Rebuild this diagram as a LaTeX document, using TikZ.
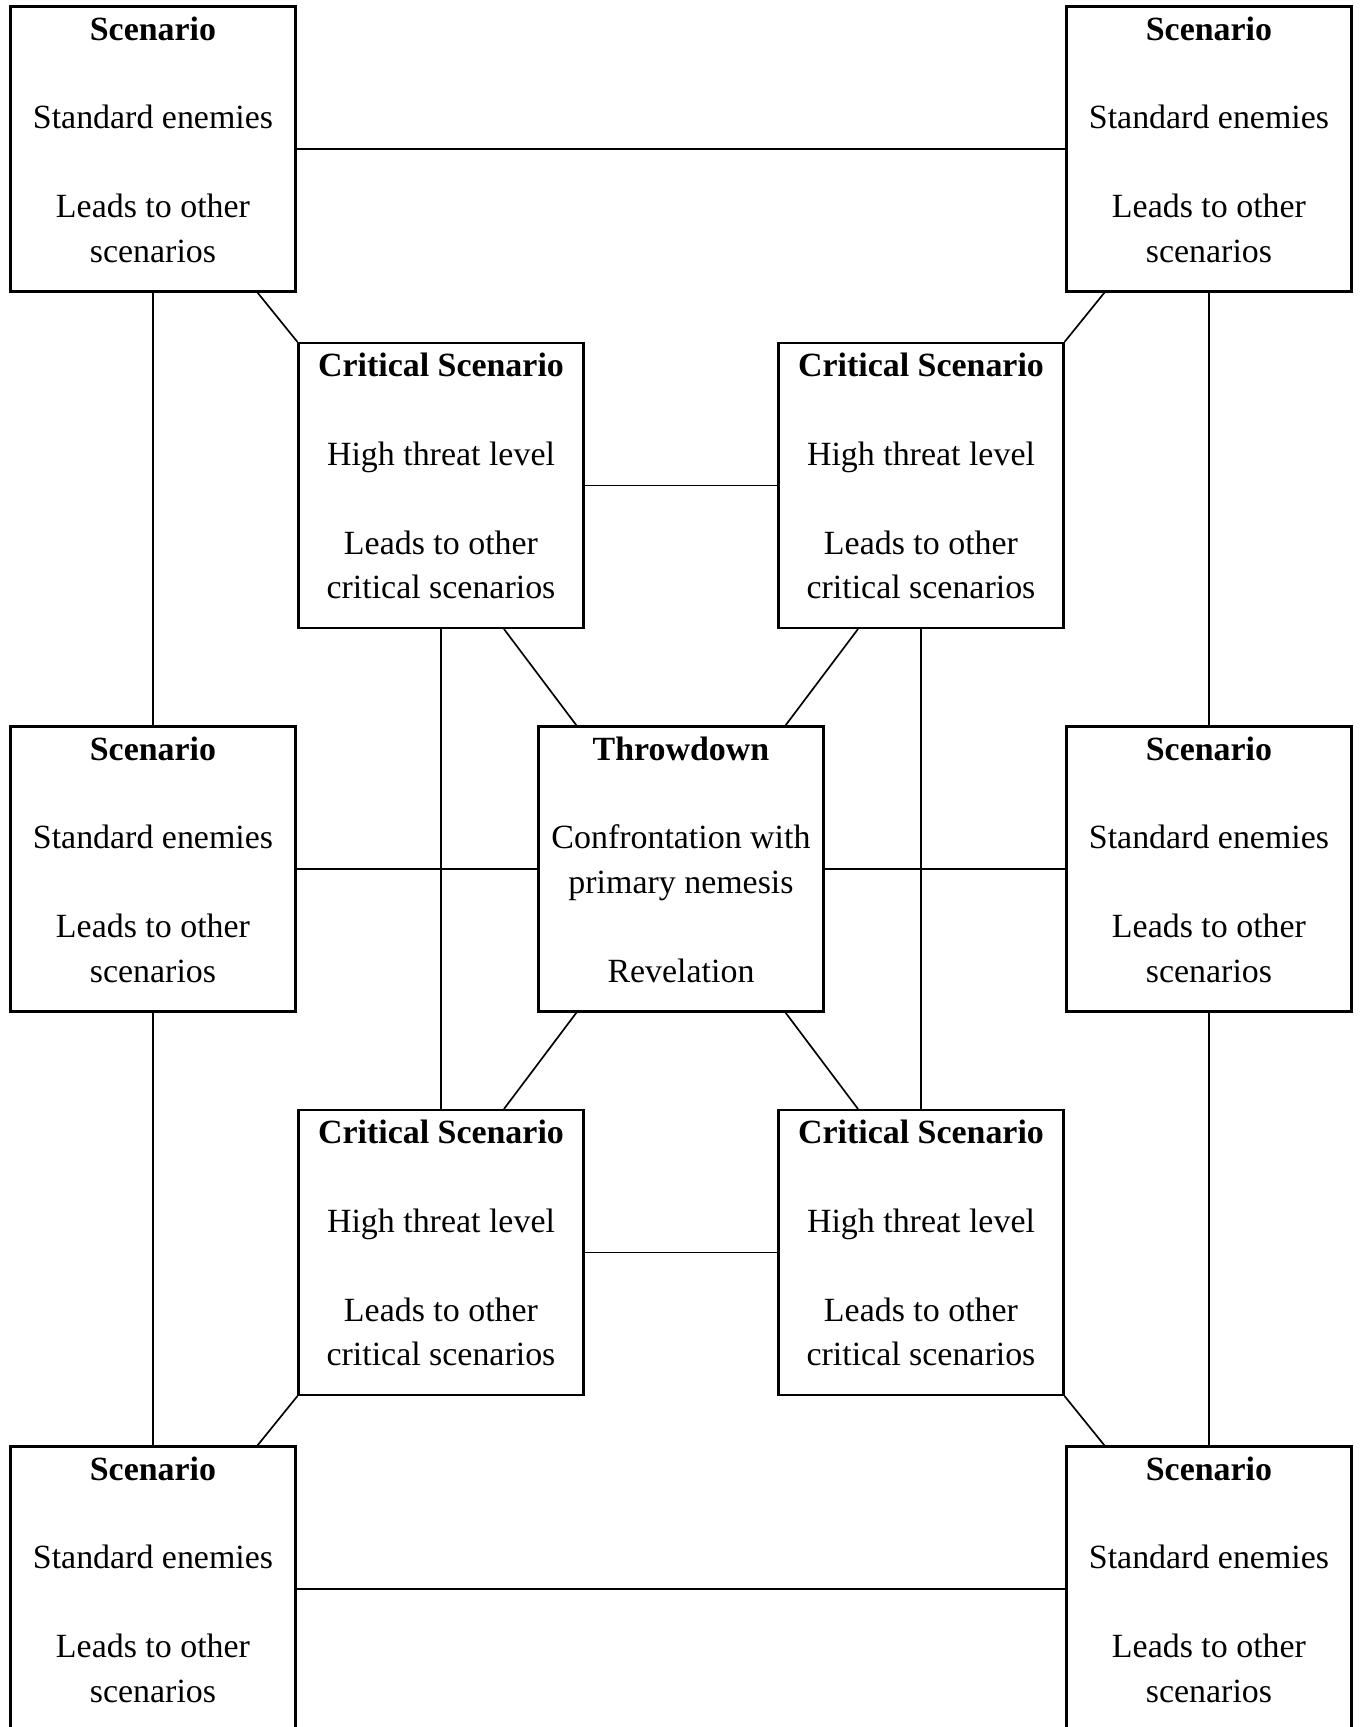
\documentclass[tikz,border=0pt]{standalone}
\usepackage{fontspec}
\setmainfont{Liberation Serif}
\newcommand{\cardtext}[1]{\parbox[c][5.3cm][t]{5.5cm}{\centering #1}}
\begin{document}
\begin{tikzpicture}
\tikzstyle{every node}=[font=\fontsize{19.3}{25.3}\selectfont]
\tikzstyle{card}=[draw, line width=1.2pt, inner sep=0pt, minimum width=5.7cm, minimum height=5.7cm]
\tikzstyle{link}=[line width=0.95pt]
\useasboundingbox (-13.62,-17.16) rectangle (13.56,17.38);
	% outer scenarios
	\node[card] (sTL) at (-10.56,14.4) {\cardtext{\textbf{Scenario}\\[25.3pt]Standard enemies\\[25.3pt]Leads to other\\scenarios}};
	\node[card] (sTR) at (10.56,14.4) {\cardtext{\textbf{Scenario}\\[25.3pt]Standard enemies\\[25.3pt]Leads to other\\scenarios}};
	\node[card] (sML) at (-10.56,0) {\cardtext{\textbf{Scenario}\\[25.3pt]Standard enemies\\[25.3pt]Leads to other\\scenarios}};
	\node[card] (sMR) at (10.56,0) {\cardtext{\textbf{Scenario}\\[25.3pt]Standard enemies\\[25.3pt]Leads to other\\scenarios}};
	\node[card] (sBL) at (-10.56,-14.4) {\cardtext{\textbf{Scenario}\\[25.3pt]Standard enemies\\[25.3pt]Leads to other\\scenarios}};
	\node[card] (sBR) at (10.56,-14.4) {\cardtext{\textbf{Scenario}\\[25.3pt]Standard enemies\\[25.3pt]Leads to other\\scenarios}};
	% critical scenarios
	\node[card] (cTL) at (-4.8,7.67) {\cardtext{\textbf{Critical Scenario}\\[25.3pt]High threat level\\[25.3pt]Leads to other\\critical scenarios}};
	\node[card] (cTR) at (4.8,7.67) {\cardtext{\textbf{Critical Scenario}\\[25.3pt]High threat level\\[25.3pt]Leads to other\\critical scenarios}};
	\node[card] (cBL) at (-4.8,-7.67) {\cardtext{\textbf{Critical Scenario}\\[25.3pt]High threat level\\[25.3pt]Leads to other\\critical scenarios}};
	\node[card] (cBR) at (4.8,-7.67) {\cardtext{\textbf{Critical Scenario}\\[25.3pt]High threat level\\[25.3pt]Leads to other\\critical scenarios}};
	% finale
	\node[card] (throw) at (0,0) {\cardtext{\textbf{Throwdown}\\[25.3pt]Confrontation with\\primary nemesis\\[25.3pt]Revelation}};
	% outer ring
	\draw[link] (sTL) -- (sTR);
	\draw[link] (sBL) -- (sBR);
	\draw[link] (sTL) -- (sML);
	\draw[link] (sML) -- (sBL);
	\draw[link] (sTR) -- (sMR);
	\draw[link] (sMR) -- (sBR);
	\draw[link] (sML) -- (throw);
	\draw[link] (throw) -- (sMR);
	% inner ring
	\draw[link] (cTL) -- (cTR);
	\draw[link] (cBL) -- (cBR);
	\draw[link] (cTL) -- (cBL);
	\draw[link] (cTR) -- (cBR);
	% diagonals
	\draw[link] ([xshift=2.09cm]sTL.south) -- (cTL.north west);
	\draw[link] ([xshift=-2.09cm]sTR.south) -- (cTR.north east);
	\draw[link] ([xshift=2.09cm]sBL.north) -- (cBL.south west);
	\draw[link] ([xshift=-2.09cm]sBR.north) -- (cBR.south east);
	\draw[link] ([xshift=1.26cm]cTL.south) -- ([xshift=-2.09cm]throw.north);
	\draw[link] ([xshift=-1.26cm]cTR.south) -- ([xshift=2.09cm]throw.north);
	\draw[link] ([xshift=1.26cm]cBL.north) -- ([xshift=-2.09cm]throw.south);
	\draw[link] ([xshift=-1.26cm]cBR.north) -- ([xshift=2.09cm]throw.south);
\end{tikzpicture}
\end{document}
